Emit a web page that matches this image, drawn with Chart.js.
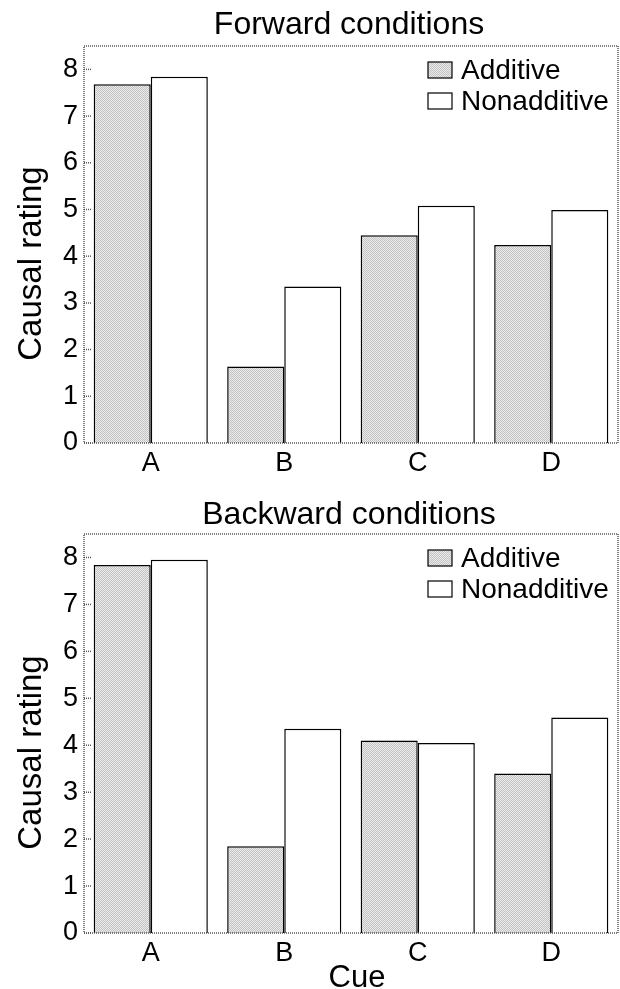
<!DOCTYPE html>
<html>
<head>
<meta charset="utf-8">
<script src="https://cdn.jsdelivr.net/npm/chart.js@4/dist/chart.umd.min.js"></script>
<style>
  body { margin: 0; background: #fff; }
  canvas { display: block; }
</style>
</head>
<body>
<canvas id="forward" width="620" height="489"></canvas>
<canvas id="backward" width="620" height="500"></canvas>
<script>
const cues = ["A", "B", "C", "D"];
const seriesNames = ["Additive", "Nonadditive"];
const yTicks = [0, 1, 2, 3, 4, 5, 6, 7, 8];
const forwardAdditive = [7.68, 1.64, 4.45, 4.24];
const forwardNonadditive = [7.84, 3.35, 5.08, 4.99];
const backwardAdditive = [7.84, 1.85, 4.10, 3.40];
const backwardNonadditive = [7.95, 4.35, 4.05, 4.59];

const FONT = '"Liberation Sans", Arial, Helvetica, sans-serif';

// stipple fill for the additive bars
const pc = document.createElement("canvas");
pc.width = 2;
pc.height = 2;
const pg = pc.getContext("2d");
pg.fillStyle = "#ebebeb";
pg.fillRect(0, 0, 2, 2);
pg.fillStyle = "#c2c2c2";
pg.fillRect(0, 0, 1, 1);
pg.fillRect(1, 1, 1, 1);
const stipple = pg.createPattern(pc, "repeat");

const decorPlugin = {
  id: "decor",
  afterDraw(chart) {
    const ctx = chart.ctx;
    const a = chart.chartArea;
    const y = chart.scales.y;
    const o = chart.options.plugins.decor;
    ctx.save();

    // dotted frame
    ctx.strokeStyle = "#555";
    ctx.lineWidth = 1.5;
    ctx.setLineDash([1, 1]);
    ctx.strokeRect(a.left, a.top, a.right - a.left, a.bottom - a.top);

    // inward ticks
    y.ticks.forEach((t) => {
      const py = y.getPixelForValue(t.value);
      ctx.beginPath();
      ctx.moveTo(a.left, py);
      ctx.lineTo(a.left + 7, py);
      ctx.stroke();
    });
    ctx.setLineDash([]);

    ctx.fillStyle = "#000";
    ctx.textBaseline = "alphabetic";
    ctx.textAlign = "center";
    ctx.font = "32px " + FONT;
    ctx.fillText(o.title, (a.left + a.right) / 2 - 2, o.titleY);

    // y axis title
    ctx.save();
    ctx.translate(41, (a.top + a.bottom) / 2 + 19);
    ctx.rotate(-Math.PI / 2);
    ctx.font = "33px " + FONT;
    ctx.fillText("Causal rating", 0, 0);
    ctx.restore();

    if (o.xTitle) {
      ctx.font = "31px " + FONT;
      ctx.fillText(o.xTitle, 357, 498);
    }

    // legend
    ctx.font = "28px " + FONT;
    ctx.textAlign = "left";
    chart.data.datasets.forEach((ds, i) => {
      const by = a.top + 16 + i * 31;
      ctx.fillStyle = ds.backgroundColor;
      ctx.fillRect(428, by, 24, 16);
      ctx.strokeStyle = "#000";
      ctx.lineWidth = 1.2;
      ctx.strokeRect(428, by, 24, 16);
      ctx.fillStyle = "#000";
      ctx.fillText(ds.label, 461, by + 17);
    });
    ctx.restore();
  },
};

function makeChart(id, title, titleY, addData, nonData, xTitle, padTop, xHeight) {
  return new Chart(document.getElementById(id), {
    type: "bar",
    data: {
      labels: cues,
      datasets: [
        {
          label: seriesNames[0],
          data: addData,
          backgroundColor: stipple,
          borderColor: "#000",
          borderWidth: 1.5,
          borderSkipped: "bottom",
        },
        {
          label: seriesNames[1],
          data: nonData,
          backgroundColor: "#ffffff",
          borderColor: "#000",
          borderWidth: 1.5,
          borderSkipped: "bottom",
        },
      ],
    },
    options: {
      responsive: false,
      animation: false,
      devicePixelRatio: 1,
      categoryPercentage: 0.855,
      barPercentage: 1.0,
      layout: { padding: { top: padTop, right: 2, left: 0, bottom: 0 } },
      plugins: {
        legend: { display: false },
        tooltip: { enabled: false },
        decor: { title: title, titleY: titleY, xTitle: xTitle },
      },
      scales: {
        x: {
          grid: { display: false, drawTicks: false },
          border: { display: false },
          ticks: { color: "#000", font: { family: FONT, size: 27 }, padding: 4 },
          afterFit(scale) { scale.height = xHeight; },
        },
        y: {
          min: 0,
          max: 8.5,
          grid: { display: false, drawTicks: false },
          border: { display: false },
          ticks: { color: "#000", font: { family: FONT, size: 27 }, padding: 6 },
          afterBuildTicks(scale) { scale.ticks = yTicks.map((v) => ({ value: v })); },
          afterFit(scale) { scale.width = 84; },
        },
      },
    },
    plugins: [decorPlugin],
  });
}

makeChart("forward", "Forward conditions", 34, forwardAdditive, forwardNonadditive, null, 46, 46);
makeChart("backward", "Backward conditions", 35, backwardAdditive, backwardNonadditive, "Cue", 45, 56);
</script>
</body>
</html>
